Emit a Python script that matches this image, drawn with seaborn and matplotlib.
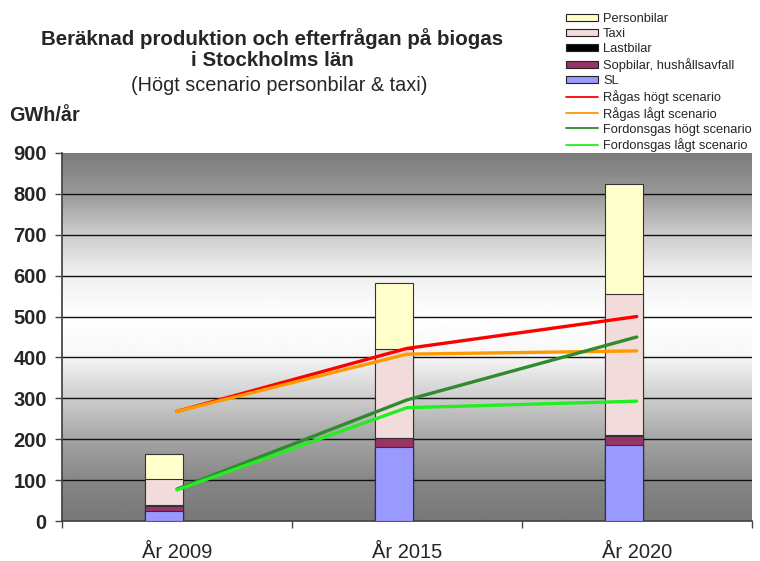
import numpy as np
import pandas as pd
import matplotlib
matplotlib.use("Agg")
import matplotlib.pyplot as plt
import seaborn as sns
from matplotlib.patches import Patch
from matplotlib.lines import Line2D

# ---- data ----
years = ["År 2009", "År 2015", "År 2020"]
sl = [25, 180, 186]
sopbilar = [12, 22, 21]
lastbilar = [2, 2, 3]
taxi = [63, 217, 344]
personbilar = [62, 160, 270]

ragas_hogt = [268, 422, 500]
ragas_lagt = [268, 408, 416]
fordonsgas_hogt = [78, 296, 450]
fordonsgas_lagt = [76, 277, 293]

stack_names = ["SL", "Sopbilar, hushållsavfall", "Lastbilar", "Taxi", "Personbilar"]
stack_vals = [sl, sopbilar, lastbilar, taxi, personbilar]
stack_colors = ["#9999FF", "#993366", "#000000", "#F2DCDB", "#FFFFCC"]

line_names = ["Rågas högt scenario", "Rågas lågt scenario",
              "Fordonsgas högt scenario", "Fordonsgas lågt scenario"]
line_vals = [ragas_hogt, ragas_lagt, fordonsgas_hogt, fordonsgas_lagt]
line_colors = ["#FF0000", "#FF9900", "#2E8B2E", "#22EE22"]

sns.set_theme(style="white")
plt.rcParams["font.family"] = ["Liberation Sans", "DejaVu Sans"]

fig = plt.figure(figsize=(7.6, 5.61), dpi=100)
ax = fig.add_axes([0.0816, 0.0713, 0.9074, 0.656])

# background gradient
prof_y = np.linspace(0, 1, 300)
gray = np.interp(prof_y, [0, 0.1, 0.2, 0.33, 0.45, 0.55, 0.67, 0.78, 0.89, 1.0],
                 [0.47, 0.52, 0.62, 0.8, 0.97, 1.0, 0.94, 0.8, 0.6, 0.48])
ax.imshow(gray[:, None], cmap="gray", vmin=0, vmax=1, aspect="auto",
          extent=[-0.5, 2.5, 0, 900], origin="lower", zorder=0)

# stacked bars (cumulative, drawn tallest first), shifted left of category centre
cum = np.cumsum(np.array(stack_vals), axis=0)
for i in range(len(stack_vals) - 1, -1, -1):
    df = pd.DataFrame({"year": years, "val": cum[i]})
    sns.barplot(data=df, x="year", y="val", color=stack_colors[i], width=0.165,
                saturation=1, edgecolor="#333333", linewidth=0.8, ax=ax, zorder=3)
for p in ax.patches:
    p.set_x(p.get_x() - 0.057)

# lines at category centres
xpos = np.array([0, 1, 2])
for name, vals, c in zip(line_names, line_vals, line_colors):
    sns.lineplot(x=xpos, y=vals, color=c, linewidth=2.4, ax=ax, zorder=4)

ax.set_xlim(-0.5, 2.5)
ax.set_ylim(0, 900)
ax.set_yticks(range(0, 901, 100))
for yv in range(100, 900, 100):
    ax.axhline(yv, color="#111111", linewidth=1.0, zorder=1)
ax.tick_params(axis="y", labelsize=14.5, length=5, width=1, color="#444444", left=True, pad=6)
for lab in ax.get_yticklabels():
    lab.set_fontweight("bold")
ax.set_xticks([0, 1, 2])
ax.set_xticklabels(years, fontsize=14.5)
ax.tick_params(axis="x", length=0, pad=16)
ax.set_xticks([-0.5, 0.5, 1.5, 2.5], minor=True)
ax.tick_params(axis="x", which="minor", length=5, width=1, color="#444444", bottom=True)
ax.set_xlabel("")
ax.set_ylabel("")
for s in ["top", "right"]:
    ax.spines[s].set_visible(False)
ax.spines["left"].set_color("#444444")
ax.spines["bottom"].set_color("#444444")
ax.grid(False)

# titles
fig.text(0.358, 0.913, "Beräknad produktion och efterfrågan på biogas\ni Stockholms län",
         ha="center", va="center", fontsize=14.8, fontweight="bold", linespacing=1.17)
fig.text(0.367, 0.848, "(Högt scenario personbilar & taxi)", ha="center", va="center", fontsize=14.3)
fig.text(0.012, 0.795, "GWh/år", ha="left", va="center", fontsize=14.3, fontweight="bold")

# legend
handles = []
for name, c in zip(stack_names[::-1], stack_colors[::-1]):
    handles.append(Patch(facecolor=c, edgecolor="#222222", linewidth=0.8, label=name))
for name, c in zip(line_names, line_colors):
    handles.append(Line2D([0], [0], color=c, linewidth=1.3, label=name))
fig.legend(handles=handles, loc="upper left", bbox_to_anchor=(0.733, 0.993),
           frameon=False, fontsize=9.3, handlelength=2.5, handleheight=0.5,
           labelspacing=0.23, handletextpad=0.35, borderpad=0.2)

fig.savefig("out.png", dpi=100)
